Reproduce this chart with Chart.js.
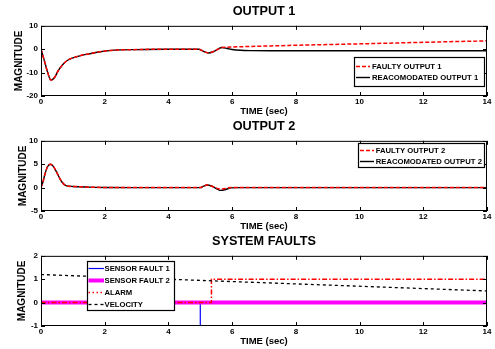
<!DOCTYPE html>
<html>
<head>
<meta charset="utf-8">
<script src="https://cdn.jsdelivr.net/npm/chart.js@4.4.0/dist/chart.umd.min.js"></script>
<style>
	body { margin: 0; background: #fff; }
	#wrap { position: relative; width: 495px; height: 349px; overflow: hidden; }
	#wrap canvas { position: absolute; left: 0; }
</style>
</head>
<body>
<div id="wrap">
	<canvas id="out1" width="495" height="117" style="top: 0px;"></canvas>
	<canvas id="out2" width="495" height="117" style="top: 115px;"></canvas>
	<canvas id="faults" width="495" height="117" style="top: 230px;"></canvas>
</div>
<script>
// --- data ---
const xTicks = [0, 2, 4, 6, 8, 10, 12, 14];

const time1 = [0, 0.05, 0.12, 0.2, 0.31, 0.42, 0.54, 0.7, 0.86, 1.05, 1.27, 1.5, 1.8, 2.3, 3, 4, 4.95, 5.1, 5.25, 5.45, 5.68, 5.85, 6.0, 6.26, 6.6, 7.2, 8, 10, 12, 14];
const faulty1 = [0, -2.3, -5.6, -9.5, -13.2, -12.2, -9.2, -6.3, -4.5, -3.5, -2.6, -2.0, -1.2, -0.4, -0.15, 0, 0, -0.9, -1.6, -0.8, 0.75, 0.85, 0.95, 1.05, 1.2, 1.4, 1.7, 2.3, 2.95, 3.6];
const reac1 = [0, -2.3, -5.6, -9.5, -13.2, -12.2, -9.2, -6.3, -4.5, -3.5, -2.6, -2.0, -1.2, -0.4, -0.15, 0, 0, -0.9, -1.6, -0.8, 0.75, 0.3, -0.1, -0.45, -0.6, -0.65, -0.65, -0.65, -0.65, -0.65];
const yTicks1 = [-20, -10, 0, 10];

const time2 = [0, 0.06, 0.125, 0.2, 0.29, 0.38, 0.49, 0.65, 0.8, 1.0, 1.5, 2, 3, 4, 5.0, 5.1, 5.21, 5.35, 5.5, 5.63, 5.8, 5.95, 6.2, 8, 10, 12, 14];
const faulty2 = [0, 1.2, 2.9, 4.4, 5.0, 4.6, 3.3, 1.25, 0.37, 0.25, 0.1, 0.03, 0, 0, 0, 0.3, 0.55, 0.35, -0.1, -0.3, -0.2, 0, 0, 0, 0, 0, 0];
const reac2 = [0, 1.2, 2.9, 4.4, 5.0, 4.6, 3.3, 1.25, 0.37, 0.25, 0.1, 0.03, 0, 0, 0, 0.3, 0.55, 0.35, -0.2, -0.6, -0.4, -0.05, 0, 0, 0, 0, 0];
const yTicks2 = [-5, 0, 5, 10];

const sensorTime = [0, 5, 5, 14];
const sensorFault1 = [0, 0, -1, -1];
const fault2Time = [0, 14];
const sensorFault2 = [0, 0];
const alarmTime = [0, 5.35, 5.35, 14];
const alarm = [0, 0, 1, 1];
const velocityTime = [0, 14];
const velocity = [1.2, 0.5];
const yTicks3 = [-1, 0, 1, 2];

Chart.defaults.font.family = '"Liberation Sans", Arial, sans-serif';
Chart.defaults.color = '#000';

function pts(xs, ys) {
	return xs.map((x, i) => ({x: x, y: ys[i]}));
}

// matlab style box with inward tick marks
const boxAxes = {
	id: 'boxAxes',
	afterDatasetsDraw(chart) {
		const {ctx, chartArea: a, scales: {x, y}} = chart;
		ctx.save();
		ctx.strokeStyle = '#000';
		ctx.lineWidth = 1;
		ctx.beginPath();
		x.ticks.forEach(t => {
			const px = Math.round(x.getPixelForValue(t.value)) + 0.5;
			ctx.moveTo(px, a.bottom); ctx.lineTo(px, a.bottom - 4);
			ctx.moveTo(px, a.top); ctx.lineTo(px, a.top + 4);
		});
		y.ticks.forEach(t => {
			const py = Math.round(y.getPixelForValue(t.value)) + 0.5;
			ctx.moveTo(a.left, py); ctx.lineTo(a.left + 4, py);
			ctx.moveTo(a.right, py); ctx.lineTo(a.right - 4, py);
		});
		ctx.stroke();
		ctx.strokeRect(a.left + 0.5, a.top + 0.5, a.width - 1, a.height - 1);
		ctx.restore();
	}
};

// boxed legend placed by hand like in the figure
const boxLegend = {
	id: 'boxLegend',
	afterDraw(chart, args, o) {
		if (!o || o.left == null) return;
		const ctx = chart.ctx;
		ctx.save();
		ctx.fillStyle = '#fff';
		ctx.fillRect(o.left, o.top, o.width, o.height);
		ctx.strokeStyle = '#000';
		ctx.lineWidth = 1.2;
		ctx.strokeRect(o.left + 0.5, o.top + 0.5, o.width, o.height);
		ctx.font = 'bold 7.7px "Liberation Sans", Arial, sans-serif';
		ctx.textBaseline = 'middle';
		ctx.textAlign = 'left';
		chart.data.datasets.forEach((ds, i) => {
			const cy = Math.round(o.top + o.firstRow + i * o.rowH) + 0.5;
			ctx.strokeStyle = ds.borderColor;
			ctx.lineWidth = ds.borderWidth;
			ctx.setLineDash(ds.legendDash || ds.borderDash || []);
			ctx.beginPath();
			ctx.moveTo(o.left + o.lineX0, cy);
			ctx.lineTo(o.left + o.lineX1, cy);
			ctx.stroke();
			ctx.setLineDash([]);
			ctx.fillStyle = '#000';
			ctx.fillText(ds.label, o.left + o.textX, cy);
		});
		ctx.restore();
	}
};

function makeChart(id, title, datasets, yMin, yMax, yStep, yTitlePad, legendOpts) {
	return new Chart(document.getElementById(id), {
		type: 'line',
		data: { datasets: datasets },
		options: {
			responsive: false,
			animation: false,
			events: [],
			layout: { padding: { left: 0, right: 8, top: 0, bottom: 0 } },
			elements: { point: { radius: 0 } },
			plugins: {
				legend: { display: false },
				tooltip: { enabled: false },
				title: {
					display: true,
					text: title,
					fullSize: false,
					font: { size: 12.7, weight: 'bold', lineHeight: 1.2 },
					padding: { top: 4, bottom: 6.6 }
				},
				boxLegend: legendOpts
			},
			scales: {
				x: {
					type: 'linear',
					min: 0, max: 14,
					afterBuildTicks: s => { s.ticks = xTicks.map(v => ({value: v})); },
					afterFit: s => { s.height = 21; },
					grid: { display: false, drawTicks: false },
					border: { display: false },
					ticks: { padding: 1, font: { size: 8, weight: 'bold', lineHeight: 1.2 } },
					title: {
						display: true,
						text: 'TIME (sec)',
						font: { size: 9.5, weight: 'bold', lineHeight: 1.1 },
						padding: { top: 0, bottom: 0 }
					}
				},
				y: {
					min: yMin, max: yMax,
					ticks: { stepSize: yStep, padding: 3, font: { size: 8, weight: 'bold', lineHeight: 1.2 } },
					afterFit: s => { s.width = 41; },
					grid: { display: false, drawTicks: false },
					border: { display: false },
					title: {
						display: true,
						text: 'MAGNITUDE',
						font: { size: 10, weight: 'bold', lineHeight: 1.2 },
						padding: { top: yTitlePad, bottom: 0 }
					}
				}
			}
		},
		plugins: [boxAxes, boxLegend]
	});
}

makeChart('out1', 'OUTPUT 1', [
	{
		label: 'FAULTY OUTPUT 1',
		data: pts(time1, faulty1),
		borderColor: '#ff0000',
		borderWidth: 1.5,
		borderDash: [4, 2],
		cubicInterpolationMode: 'monotone',
		order: 0
	},
	{
		label: 'REACOMODATED OUTPUT 1',
		data: pts(time1, reac1),
		borderColor: '#000000',
		borderWidth: 1.4,
		cubicInterpolationMode: 'monotone',
		order: 1
	}
], -20, 10, 10, 13.5, { left: 354, top: 57, width: 130, height: 29, firstRow: 8.7, rowH: 11, lineX0: 2, lineX1: 16, textX: 18 });

makeChart('out2', 'OUTPUT 2', [
	{
		label: 'FAULTY OUTPUT 2',
		data: pts(time2, faulty2),
		borderColor: '#ff0000',
		borderWidth: 1.5,
		borderDash: [4, 2],
		cubicInterpolationMode: 'monotone',
		order: 0
	},
	{
		label: 'REACOMODATED OUTPUT 2',
		data: pts(time2, reac2),
		borderColor: '#000000',
		borderWidth: 1.4,
		cubicInterpolationMode: 'monotone',
		order: 1
	}
], -5, 10, 5, 17, { left: 358, top: 28, width: 126, height: 24, firstRow: 6.7, rowH: 11.5, lineX0: 2, lineX1: 16, textX: 17.7 });

makeChart('faults', 'SYSTEM FAULTS', [
	{
		label: 'SENSOR FAULT 1',
		data: pts(sensorTime, sensorFault1),
		borderColor: '#0000ff',
		borderWidth: 1.2,
		order: 4
	},
	{
		label: 'SENSOR FAULT 2',
		data: pts(fault2Time, sensorFault2),
		borderColor: '#ff00ff',
		borderWidth: 4,
		order: 3
	},
	{
		label: 'ALARM',
		data: pts(alarmTime, alarm),
		borderColor: '#ff0000',
		borderWidth: 1.5,
		borderDash: [5, 2, 1.5, 2],
		legendDash: [1.5, 2.5],
		order: 2
	},
	{
		label: 'VELOCITY',
		data: pts(velocityTime, velocity),
		borderColor: '#000000',
		borderWidth: 1.3,
		borderDash: [3, 3],
		order: 1
	}
], -1, 2, 1, 16.5, { left: 87, top: 31, width: 87, height: 49, firstRow: 7.3, rowH: 12, lineX0: 1.5, lineX1: 17, textX: 17.5 });
</script>
</body>
</html>
